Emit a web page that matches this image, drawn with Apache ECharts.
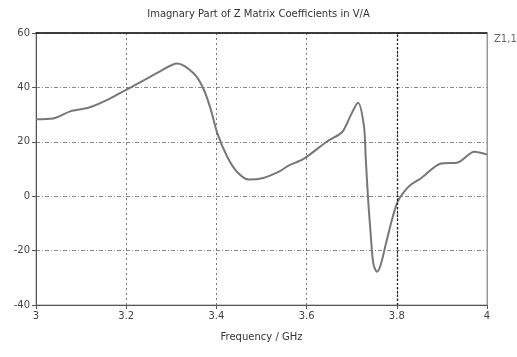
<!DOCTYPE html>
<html>
<head>
<meta charset="utf-8">
<script src="https://cdn.jsdelivr.net/npm/echarts@6/dist/echarts.min.js"></script>
<style>
  html, body { margin: 0; padding: 0; background: #fff; }
  #main { width: 517px; height: 357px; }
</style>
</head>
<body>
<div id="main"></div>
<script>
// frequency in GHz
const freq = [3.000, 3.038, 3.076, 3.116, 3.157, 3.202, 3.253, 3.271, 3.313, 3.350, 3.371,
  3.387, 3.402, 3.424, 3.446, 3.472, 3.504, 3.542, 3.557, 3.594, 3.646, 3.679, 3.698, 3.714,
  3.727, 3.731, 3.736, 3.742, 3.748, 3.756, 3.764, 3.776, 3.790, 3.802, 3.816, 3.831,
  3.853, 3.898, 3.935, 3.972, 4.000]
// Im(Z1,1) in V/A
const z11 = [28.3, 28.6, 31.2, 32.5, 35.3, 39.3, 43.9, 45.5, 48.8, 45.1, 39.6,
  32.2, 23.2, 14.5, 8.9, 6.1, 6.7, 9.3, 11.0, 13.8, 20.2, 23.6, 29.8, 34.4,
  26.0, 14.5, -0.2, -13.7, -24.8, -27.8, -25.4, -17.4, -8.2, -2.0, 1.6, 4.2,
  6.5, 12.0, 12.4, 16.3, 15.3]
const xTicks = [3, 3.2, 3.4, 3.6, 3.8, 4]
const yTicks = [-40, -20, 0, 20, 40, 60]

const myChart = echarts.init(document.getElementById('main'))
const font = 'DejaVu Sans'

let points = freq.map((f, i) => [f, z11[i]])

let option = {
  animation: false,
  backgroundColor: '#fff',
  title: {
    text: 'Imagnary Part of Z Matrix Coefficients in V/A',
    left: 'center',
    top: 4,
    textStyle: { fontFamily: font, fontSize: 10, fontWeight: 'normal', color: '#333' }
  },
  grid: {
    left: 36, right: 30, top: 33, bottom: 52,
    show: true, borderColor: '#999', borderWidth: 1
  },
  graphic: [{
    type: 'text', left: 494, top: 34,
    style: { text: 'Z1,1', fontFamily: font, fontSize: 10, fill: '#666' }
  }],
  xAxis: [{
    type: 'value', min: xTicks[0], max: xTicks[xTicks.length - 1], interval: 0.2,
    name: 'Frequency / GHz', nameLocation: 'middle', nameGap: 27,
    nameTextStyle: { fontFamily: font, fontSize: 10, color: '#333' },
    axisLine: { onZero: false, lineStyle: { color: '#555', width: 1 } },
    axisTick: { show: true, length: 4, lineStyle: { color: '#555' } },
    axisLabel: { fontFamily: font, fontSize: 10, color: '#444', margin: 6,
      formatter: v => String(Math.round(v * 10) / 10) },
    splitLine: { show: true, lineStyle: { color: '#777', type: [2, 3] } }
  }, {
    // plain black frame line along the top
    type: 'value', position: 'top', min: 3, max: 4,
    axisLine: { show: true, onZero: false, lineStyle: { color: '#111', width: 1.5 } },
    axisTick: { show: false }, axisLabel: { show: false }, splitLine: { show: false }
  }],
  yAxis: {
    type: 'value', min: yTicks[0], max: yTicks[yTicks.length - 1], interval: 20,
    axisLine: { show: true, onZero: false, lineStyle: { color: '#555', width: 1 } },
    axisTick: { show: true, length: 4, lineStyle: { color: '#555' } },
    axisLabel: { fontFamily: font, fontSize: 10, color: '#444', margin: 6 },
    splitLine: { show: true, lineStyle: { color: '#888', type: [4, 2, 1, 2] } }
  },
  series: [{
    name: 'Z1,1',
    type: 'line',
    data: points,
    smooth: 0.3,
    showSymbol: false,
    lineStyle: { color: '#777', width: 2 },
    markLine: {
      silent: true, symbol: 'none', label: { show: false },
      data: [
        { xAxis: 3.8, lineStyle: { color: '#222', type: [2, 2], width: 1.3 } },
        { xAxis: 4, lineStyle: { color: '#999', type: 'solid', width: 1 } }
      ]
    }
  }]
}

myChart.setOption(option, true)
</script>
</body>
</html>
